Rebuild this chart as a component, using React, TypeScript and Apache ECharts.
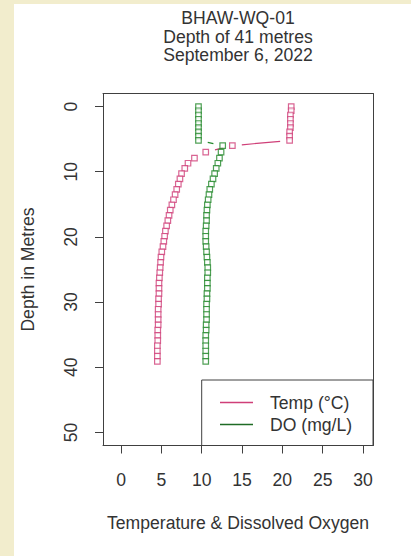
import { useEffect, useRef } from "react";
import * as echarts from "echarts";

// Profile sample depths (m) and the two measured quantities at each depth
const depths = [
  0, 0.65, 1.3, 1.95, 2.6, 3.25, 3.9, 4.55, 5.2, 6.0, 7.0, 7.9, 8.7, 9.5, 10.3,
  11.1, 11.9, 12.7, 13.5, 14.3, 15.1, 15.9, 16.7, 17.5, 18.3, 19.1, 19.9, 20.7,
  21.5, 22.3, 23.1, 23.9, 24.7, 25.5, 26.3, 27.1, 27.9, 28.7, 29.5, 30.3, 31.1,
  31.9, 32.7, 33.5, 34.3, 35.1, 35.9, 36.7, 37.5, 38.3, 39.1,
];

const temperature = [
  21.1, 21.1, 21.0, 21.0, 21.0, 21.0, 20.9, 20.9, 20.9, 13.8, 10.5, 9.1, 8.3,
  7.9, 7.5, 7.3, 7.1, 6.9, 6.7, 6.5, 6.3, 6.1, 5.95, 5.8, 5.65, 5.5, 5.4, 5.3,
  5.2, 5.05, 4.95, 4.9, 4.85, 4.8, 4.75, 4.7, 4.7, 4.7, 4.65, 4.65, 4.6, 4.6,
  4.6, 4.6, 4.55, 4.55, 4.55, 4.5, 4.5, 4.5, 4.5,
];

const dissolvedOxygen = [
  9.6, 9.6, 9.6, 9.6, 9.6, 9.6, 9.6, 9.6, 9.6, 12.6, 12.4, 12.2, 12.0, 11.8,
  11.6, 11.4, 11.2, 11.0, 10.9, 10.8, 10.7, 10.65, 10.6, 10.6, 10.55, 10.5, 10.5,
  10.5, 10.55, 10.6, 10.65, 10.7, 10.75, 10.75, 10.7, 10.7, 10.7, 10.65, 10.65,
  10.6, 10.6, 10.6, 10.6, 10.55, 10.55, 10.5, 10.5, 10.5, 10.5, 10.5, 10.5,
];

const xTicks = [0, 5, 10, 15, 20, 25, 30];
const yTicks = [0, 10, 20, 30, 40, 50];

const titleLines = ["BHAW-WQ-01", "Depth of 41 metres", "September 6, 2022"];
const tempName = "Temp (°C)";
const doName = "DO (mg/L)";
const xTitle = "Temperature & Dissolved Oxygen";
const yTitle = "Depth in Metres";

const FONT = "'Liberation Sans', Arial, Helvetica, sans-serif";
const FONT_SIZE = 17.6;
const TEMP_COLOR = "#cf3f78";
const DO_COLOR = "#23882b";
const INK = "#333333";
const FRAME = "#404040";
const PAPER = "#f2edcd";

const X_RANGE = { min: -2.24, max: 31.24 };
const Y_RANGE = { min: -2, max: 52 };

// Joining segments are pulled back from each point, as in a "both" plot,
// and skipped when the points sit too close together.
const GAP = 9.5;

function links(xs: number[], ys: number[]) {
  return xs.slice(0, -1).map((x, i) => [x, ys[i], xs[i + 1], ys[i + 1]]);
}

function linkRenderer(color: string) {
  return (_params: any, api: any) => {
    const a = api.coord([api.value(0), api.value(1)]);
    const b = api.coord([api.value(2), api.value(3)]);
    const dx = b[0] - a[0];
    const dy = b[1] - a[1];
    const len = Math.hypot(dx, dy);
    if (len <= 2 * GAP) return { type: "group", children: [] };
    const ux = dx / len;
    const uy = dy / len;
    return {
      type: "line",
      shape: {
        x1: a[0] + ux * GAP,
        y1: a[1] + uy * GAP,
        x2: b[0] - ux * GAP,
        y2: b[1] - uy * GAP,
      },
      style: { stroke: color, lineWidth: 1.2 },
    };
  };
}

function points(xs: number[], ys: number[]) {
  return xs.map((x, i) => [x, ys[i]]);
}

export default function App() {
  const ref = useRef<HTMLDivElement>(null);

  useEffect(() => {
    if (!ref.current) return;
    const chart = echarts.init(ref.current, undefined, { renderer: "svg" });

    const labelStyle = {
      fontFamily: FONT,
      fontSize: FONT_SIZE,
      lineHeight: 17,
      color: INK,
    };
    const frameLine = {
      show: true,
      onZero: false,
      lineStyle: { color: FRAME, width: 1 },
    };
    // Plain edges closing the box on the top and right
    const edge = {
      type: "value",
      axisLine: frameLine,
      axisTick: { show: false },
      axisLabel: { show: false },
      splitLine: { show: false },
    };

    chart.setOption({
      animation: false,
      backgroundColor: "#ffffff",
      textStyle: { fontFamily: FONT },
      grid: {
        left: 103,
        top: 93.5,
        width: 270,
        height: 352,
        outerBoundsMode: "none",
      },
      xAxis: [
        {
          type: "value",
          position: "bottom",
          ...X_RANGE,
          axisLine: frameLine,
          splitLine: { show: false },
          axisTick: {
            show: true,
            customValues: xTicks,
            length: 8,
            lineStyle: { color: FRAME, width: 1 },
          },
          axisLabel: { customValues: xTicks, margin: 25.5, ...labelStyle },
          name: xTitle,
          nameLocation: "middle",
          nameGap: 69,
          nameTextStyle: labelStyle,
        },
        { ...edge, position: "top", ...X_RANGE },
      ],
      yAxis: [
        {
          type: "value",
          position: "left",
          inverse: true,
          ...Y_RANGE,
          axisLine: frameLine,
          splitLine: { show: false },
          axisTick: {
            show: true,
            customValues: yTicks,
            length: 8,
            lineStyle: { color: FRAME, width: 1 },
          },
          axisLabel: {
            customValues: yTicks,
            rotate: 90,
            margin: 23.7,
            ...labelStyle,
          },
          name: yTitle,
          nameLocation: "middle",
          nameRotate: 90,
          nameGap: 67,
          nameTextStyle: labelStyle,
        },
        { ...edge, position: "right", inverse: true, ...Y_RANGE },
      ],
      legend: {
        orient: "vertical",
        left: 201.7,
        top: 380,
        padding: [13.5, 5, 14, 18.3],
        itemWidth: 33,
        itemHeight: 1.5,
        itemGap: 4,
        icon: "rect",
        selectedMode: false,
        textStyle: { ...labelStyle, padding: [0, 0, 0, 12] },
        data: [
          { name: tempName, icon: "rect", itemStyle: { color: TEMP_COLOR, borderWidth: 0 } },
          { name: doName, icon: "rect", itemStyle: { color: "#1f6b25", borderWidth: 0 } },
        ],
      },
      graphic: [
        {
          type: "rect",
          z: -10,
          shape: { x: 0, y: 0, width: 14, height: 556 },
          style: { fill: PAPER },
          silent: true,
        },
        {
          type: "rect",
          z: -10,
          shape: { x: 0, y: 0, width: 411, height: 4 },
          style: { fill: PAPER },
          silent: true,
        },
        {
          type: "text",
          x: 238,
          y: 9,
          style: {
            text: titleLines.join("\n"),
            fontFamily: FONT,
            fontSize: FONT_SIZE,
            lineHeight: 18.4,
            fill: INK,
            textAlign: "center",
            textVerticalAlign: "top",
          },
        },
        {
          type: "rect",
          shape: { x: 201.7, y: 380, width: 171.3, height: 65.5 },
          style: { fill: "none", stroke: FRAME, lineWidth: 1 },
          silent: true,
        },
      ],
      series: [
        {
          name: tempName,
          type: "custom",
          silent: true,
          renderItem: linkRenderer(TEMP_COLOR),
          encode: { x: [0, 2], y: [1, 3] },
          data: links(temperature, depths),
          itemStyle: { color: TEMP_COLOR },
        },
        {
          name: doName,
          type: "custom",
          silent: true,
          renderItem: linkRenderer(DO_COLOR),
          encode: { x: [0, 2], y: [1, 3] },
          data: links(dissolvedOxygen, depths),
          itemStyle: { color: DO_COLOR },
        },
        {
          name: tempName,
          type: "scatter",
          symbol: "rect",
          symbolSize: 5.5,
          data: points(temperature, depths),
          itemStyle: { color: "#ffffff", borderColor: TEMP_COLOR, borderWidth: 1.2 },
        },
        {
          name: doName,
          type: "scatter",
          symbol: "rect",
          symbolSize: 5.5,
          data: points(dissolvedOxygen, depths),
          itemStyle: { color: "#ffffff", borderColor: DO_COLOR, borderWidth: 1.2 },
        },
      ],
    });

    return () => chart.dispose();
  }, []);

  return (
    <div
      ref={ref}
      style={{ position: "fixed", left: 0, top: 0, width: 411, height: 556 }}
    />
  );
}
